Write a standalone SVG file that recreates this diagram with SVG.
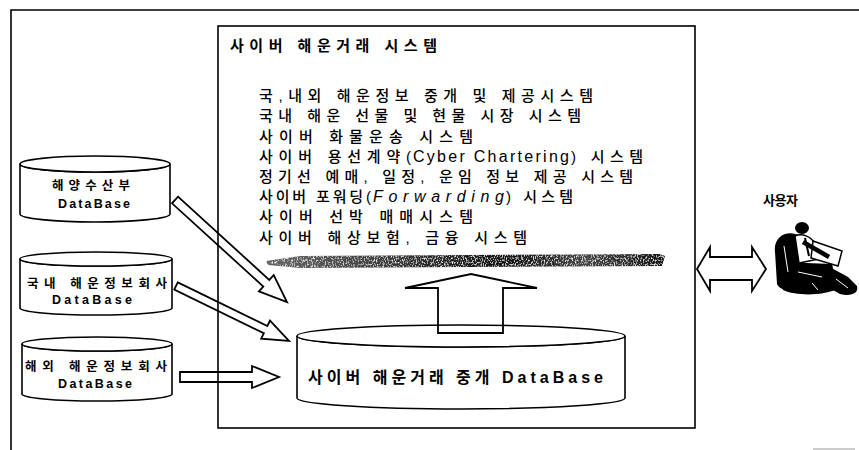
<svg xmlns="http://www.w3.org/2000/svg" width="859" height="450" viewBox="0 0 859 450">
  <style>
    .ln { fill: none; stroke: #000; stroke-width: 1.6; }
    .cyl { fill: #fff; stroke: #000; stroke-width: 1.6; }
    .blk { fill: none; stroke: #000; stroke-width: 1.8; stroke-linejoin: miter; }
    .kr { font-family: "Liberation Sans", "Noto Sans CJK KR", sans-serif; fill: #000; }
    .item { font-size: 15px; font-weight: 500; }
    .lat { font-size: 16px; }
    .ttl { font-size: 15px; font-weight: bold; }
    .lbl { font-size: 12.5px; font-weight: bold; }
    .big { font-size: 16px; font-weight: bold; }
    .ink { fill: #000; }
    .hl { fill: none; stroke: #fff; stroke-width: 1; }
  </style>
  <defs>
    <linearGradient id="barFill" x1="0" y1="0" x2="1" y2="0">
      <stop offset="0" stop-color="#666"/>
      <stop offset="0.35" stop-color="#333"/>
      <stop offset="0.6" stop-color="#111"/>
      <stop offset="0.8" stop-color="#444"/>
      <stop offset="1" stop-color="#111"/>
    </linearGradient>
    <filter id="grain" x="0" y="0" width="100%" height="100%">
      <feTurbulence type="fractalNoise" baseFrequency="0.9 0.5" numOctaves="2" seed="7" result="noise"/>
      <feColorMatrix in="noise" type="matrix" values="0 0 0 0 1  0 0 0 0 1  0 0 0 0 1  3 0 0 0 -1.5" result="specks"/>
      <feComposite in="specks" in2="SourceGraphic" operator="in" result="clipped"/>
      <feMerge><feMergeNode in="SourceGraphic"/><feMergeNode in="clipped"/></feMerge>
    </filter>
  </defs>

  <rect width="859" height="450" fill="#fff"/>

  <!-- outer frame (top and left edges) -->
  <g id="frame">
    <path class="ln" d="M11,450 V10 H859"/>
    <line x1="813" y1="449" x2="855" y2="449" stroke="#999" stroke-width="1.2"/>
  </g>

  <!-- system box -->
  <g id="system">
    <rect class="ln" x="218" y="26" width="477" height="402"/>
    <text class="kr ttl" x="230" y="50.5" textLength="207" lengthAdjust="spacing">사이버 해운거래 시스템</text>
    <text class="kr item" x="259" y="100.5" textLength="334" lengthAdjust="spacing">국,내외 해운정보 중개 및 제공시스템</text>
    <text class="kr item" x="259" y="121" textLength="322" lengthAdjust="spacing">국내 해운 선물 및 현물 시장 시스템</text>
    <text class="kr item" x="259" y="141.5" textLength="214" lengthAdjust="spacing">사이버 화물운송 시스템</text>
    <text class="kr item" x="259" y="161.5" textLength="152" lengthAdjust="spacing">사이버 용선계약(</text>
    <text class="kr item lat" x="413" y="161.5" textLength="156" lengthAdjust="spacing">Cyber Chartering</text>
    <text class="kr item" x="571" y="161.5" textLength="72" lengthAdjust="spacing">) 시스템</text>
    <text class="kr item" x="259" y="181.5" textLength="374" lengthAdjust="spacing">정기선 예매, 일정, 운임 정보 제공 시스템</text>
    <text class="kr item" x="259" y="202" textLength="112" lengthAdjust="spacing">사이버 포워딩(</text>
    <text class="kr item lat" x="373" y="202" textLength="131" lengthAdjust="spacing" font-style="italic">Forwarding</text>
    <text class="kr item" x="506" y="202" textLength="67" lengthAdjust="spacing">) 시스템</text>
    <text class="kr item" x="259" y="222" textLength="214" lengthAdjust="spacing">사이버 선박 매매시스템</text>
    <text class="kr item" x="259" y="242.5" textLength="268" lengthAdjust="spacing">사이버 해상보험, 금융 시스템</text>
  </g>

  <!-- shaded bar under the service list -->
  <g id="bar">
    <polygon points="266,261 300,256 660,254 665,256 662,266 300,268 268,265" fill="url(#barFill)" filter="url(#grain)"/>
  </g>

  <!-- source databases -->
  <g id="db-mof">
    <path class="cyl" d="M20,164 V214 A75,8 0 0 0 170,214 V164 A75,8 0 0 1 20,164 Z"/>
    <ellipse class="cyl" cx="95" cy="164" rx="75" ry="8"/>
    <text class="kr lbl" x="52" y="190" textLength="78" lengthAdjust="spacing">해양수산부</text>
    <text class="kr lbl" x="58" y="208" textLength="72" lengthAdjust="spacing">DataBase</text>
  </g>
  <g id="db-domestic">
    <path class="cyl" d="M20,259 V308 A76,7 0 0 0 172,308 V259 A76,7 0 0 1 20,259 Z"/>
    <ellipse class="cyl" cx="96" cy="259" rx="76" ry="7"/>
    <text class="kr lbl" x="27" y="288" textLength="140" lengthAdjust="spacing">국내 해운정보회사</text>
    <text class="kr lbl" x="52" y="304" textLength="80" lengthAdjust="spacing">DataBase</text>
  </g>
  <g id="db-overseas">
    <path class="cyl" d="M22,344 V394 A75,7 0 0 0 172,394 V344 A75,7 0 0 1 22,344 Z"/>
    <ellipse class="cyl" cx="97" cy="344" rx="75" ry="7"/>
    <text class="kr lbl" x="25" y="371" textLength="142" lengthAdjust="spacing">해외 해운정보회사</text>
    <text class="kr lbl" x="58" y="388" textLength="74" lengthAdjust="spacing">DataBase</text>
  </g>

  <!-- central brokerage database -->
  <g id="db-central">
    <path class="cyl" d="M297,336 V398 A164,11 0 0 0 625,398 V336 A164,11 0 0 1 297,336 Z"/>
    <ellipse class="cyl" cx="461" cy="336" rx="164" ry="11"/>
    <text class="kr big" x="308" y="383" textLength="295" lengthAdjust="spacing">사이버 해운거래 중개 DataBase</text>
  </g>

  <!-- user: figure seated in an armchair, working at a desk -->
  <g id="user">
    <text class="kr lbl" x="763" y="205" textLength="35" lengthAdjust="spacing" style="font-size:13px">사용자</text>
    <path class="ink" d="M775,252 C773,236 788,229 800,236 L801,284 C794,292 781,292 777,284 Z"/>
    <path class="ink" d="M781,262 L832,264 L838,289 C822,296 796,296 783,290 Z"/>
    <ellipse class="ink" cx="802" cy="228" rx="7" ry="6"/>
    <path d="M795,236 C802,233 811,236 815,244 L819,259 L799,263 Z" fill="#fff" stroke="#000" stroke-width="1.5"/>
    <path d="M805,238 L809,256" stroke="#000" stroke-width="2" fill="none"/>
    <polygon points="813,241 842,251 838,266 811,258" fill="#fff" stroke="#000" stroke-width="1.5"/>
    <path d="M803,242 L829,257" stroke="#000" stroke-width="4.5" fill="none"/>
    <path class="ink" d="M826,265 L848,277 L857,286 C859,293 851,297 840,294 L824,285 Z"/>
    <path class="hl" d="M784,246 L788,272 M798,272 L822,277 M836,279 L848,288 M812,283 L818,290"/>
  </g>

  <!-- connectors -->
  <g id="connectors">
    <polygon class="blk" points="178,196.7 269.3,279.9 273.7,275.1 287,302 258.9,291.3 263.3,286.5 172,203.3"/>
    <polygon class="blk" points="177.75,282.4 267.35,326 270,320.6 289,341 261.2,338.6 263.85,333.2 174.25,289.6"/>
    <polygon class="blk" points="180,372 252,372 252,366 279,377 252,388 252,382 180,382"/>
    <polygon class="blk" points="438,333 438,288 405,288 471,274 537,288 503,288 503,333"/>
    <polygon class="blk" points="697,269 710,247 710,257 752,257 752,247 766,269 752,291 752,280 710,280 710,291"/>
  </g>
</svg>
